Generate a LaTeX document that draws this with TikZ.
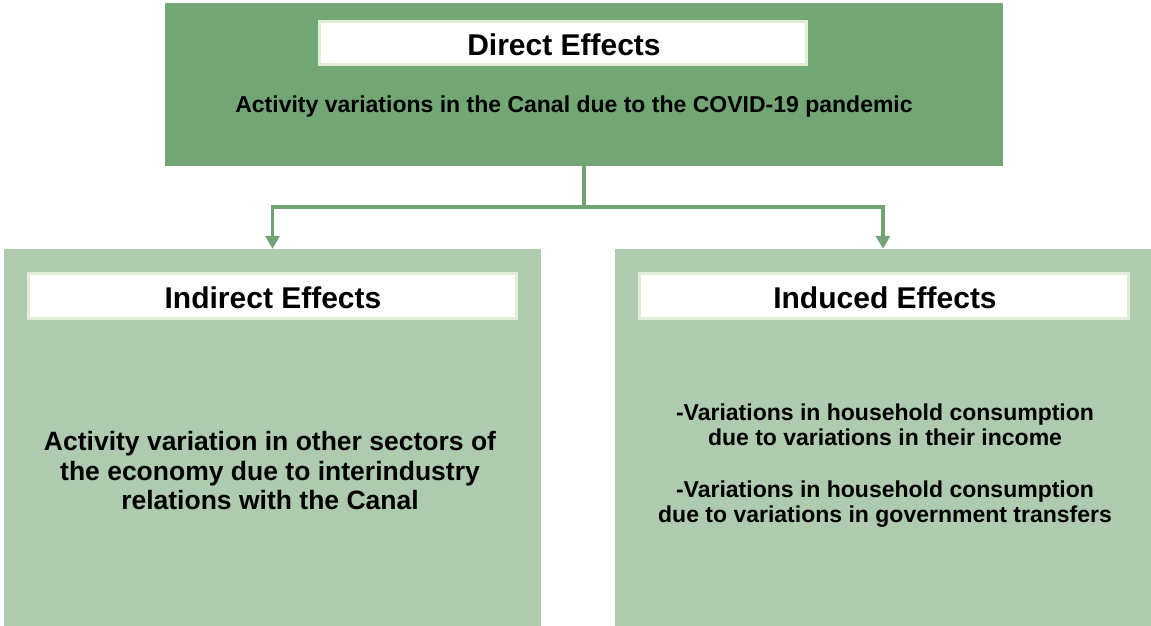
\documentclass[tikz,border=0pt]{standalone}
\usepackage{fontspec}
\setmainfont{Liberation Sans}
\usetikzlibrary{arrows.meta}
\definecolor{darkgreen}{HTML}{73A675}
\definecolor{lightgreen}{HTML}{AECAAF}
\definecolor{linegreen}{HTML}{72A276}
\definecolor{paleborder}{HTML}{E2ECD9}
\tikzset{
  bigbox/.style={rectangle, inner sep=0pt, draw=none},
  titlebox/.style={rectangle, fill=white, draw=paleborder, line width=3.5pt, inner sep=0pt, font=\bfseries\fontsize{30}{34}\selectfont},
  bodytext/.style={align=center, inner sep=0pt, font=\bfseries},
  conn/.style={draw=linegreen, line width=3.5pt},
  tip/.style={-{Triangle[width=14pt,length=13pt]}}
}
\begin{document}
\begin{tikzpicture}[x=1pt,y=-1pt]
\useasboundingbox (0,0) rectangle (1151,625);
\fill[white] (0,0) rectangle (1151,625);
% boxes
\node[bigbox, fill=darkgreen, minimum width=838pt, minimum height=163pt] (top) at (584,84.5) {};
\node[bigbox, fill=lightgreen, minimum width=537pt, minimum height=378pt] (left) at (272.5,438) {};
\node[bigbox, fill=lightgreen, minimum width=536pt, minimum height=378pt] (right) at (883,438) {};
% titles
\node[titlebox, minimum width=487pt, minimum height=43pt] (ttop) at (563,43) {};
\node[font=\bfseries\fontsize{30}{34}\selectfont, inner sep=0pt] (ttoptext) at (564,45) {Direct Effects};
\node[titlebox, minimum width=488pt, minimum height=45pt] (tleft) at (272.5,296) {};
\node[font=\bfseries\fontsize{30}{34}\selectfont, inner sep=0pt] (tlefttext) at (273,298) {Indirect Effects};
\node[titlebox, minimum width=489pt, minimum height=45pt] (tright) at (884,296) {};
\node[font=\bfseries\fontsize{30}{34}\selectfont, inner sep=0pt] (trighttext) at (885,298) {Induced Effects};
% body texts
\node[bodytext, font=\bfseries\fontsize{23}{27}\selectfont] (btop) at (574,107) {Activity variations in the Canal due to the COVID-19 pandemic};
\node[bodytext, font=\bfseries\fontsize{26.5}{29.5}\selectfont] (bleft) at (270,471) {Activity variation in other sectors of\\the economy due to interindustry\\relations with the Canal};
\node[bodytext, font=\bfseries\fontsize{23}{25}\selectfont] (bright) at (885,466) {-Variations in household consumption\\due to variations in their income\\[27pt]-Variations in household consumption\\due to variations in government transfers};
% connectors
\draw[conn] (top.south) -- ++(0,41) coordinate (junc);
\draw[conn, tip] (junc) -| (left.north);
\draw[conn, tip] (junc) -| (right.north);
\end{tikzpicture}
\end{document}
